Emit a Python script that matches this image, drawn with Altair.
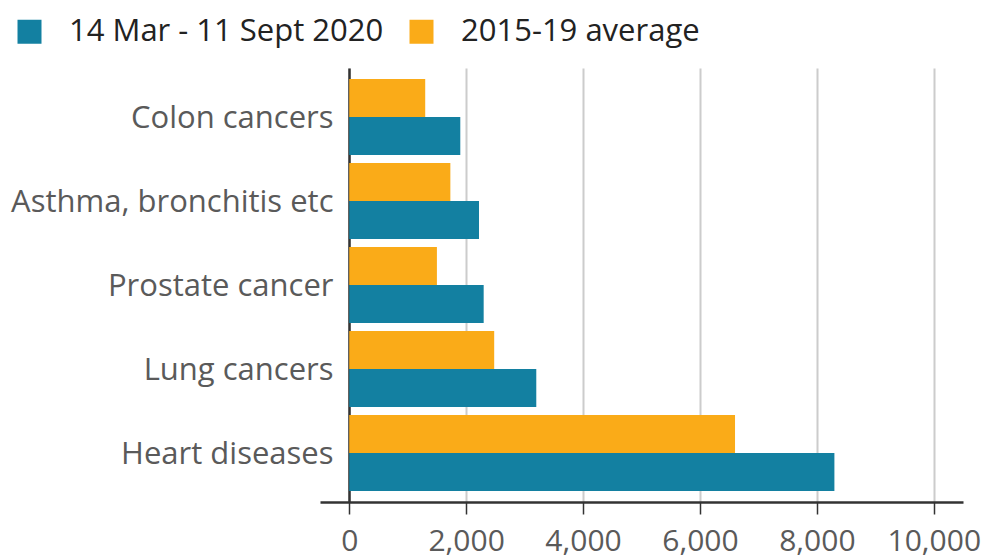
import altair as alt
import pandas as pd

categories = ["Colon cancers", "Asthma, bronchitis etc", "Prostate cancer", "Lung cancers", "Heart diseases"]
series_names = ["14 Mar - 11 Sept 2020", "2015-19 average"]
deaths_2020 = [1900, 2220, 2300, 3200, 8300]
avg_2015_19 = [1300, 1730, 1500, 2480, 6600]
x_ticks = [0, 2000, 4000, 6000, 8000, 10000]
colors = ["#1380A1", "#FAAB18"]

rows = []
for c, a, b in zip(categories, deaths_2020, avg_2015_19):
    rows.append({"cause": c, "series": series_names[0], "value": a})
    rows.append({"cause": c, "series": series_names[1], "value": b})
df = pd.DataFrame(rows)

FONT = "Open Sans"

bars = alt.Chart(df).mark_bar().encode(
    y=alt.Y("cause:N", sort=categories,
            scale=alt.Scale(paddingInner=0.095, paddingOuter=0.131),
            axis=alt.Axis(title=None, ticks=False, labelFontSize=31, labelColor="#5a5a5a",
                          labelFont=FONT, labelPadding=16, labelOffset=2,
                          domainColor="#333333", domainWidth=2.5, offset=-29, labelLimit=400)),
    yOffset=alt.YOffset("series:N", sort=[series_names[1], series_names[0]],
                        scale=alt.Scale(paddingInner=0, paddingOuter=0)),
    x=alt.X("value:Q", scale=alt.Scale(domain=[-500, 10500], zero=False, nice=False),
            axis=alt.Axis(title=None, values=x_ticks, format=",.0f", grid=True,
                          gridColor="#cccccc", gridWidth=2, domainColor="#333333",
                          domainWidth=2.5, tickColor="#333333", tickSize=12, tickWidth=1.5,
                          labelFontSize=30, labelColor="#5a5a5a", labelFont=FONT,
                          labelPadding=12)),
    x2=alt.X2(datum=0),
    color=alt.Color("series:N", sort=series_names,
                    scale=alt.Scale(domain=series_names, range=colors),
                    legend=alt.Legend(title=None, orient="none", direction="horizontal",
                                      legendX=-306, legendY=-52, symbolType="square",
                                      symbolSize=576, symbolStrokeWidth=0,
                                      labelFontSize=31, labelFont=FONT, labelColor="#222222",
                                      labelOffset=24, columnPadding=22, labelLimit=500)),
)

chart = bars.properties(
    width=643, height=434,
    autosize=alt.AutoSizeParams(type="none"),
    padding={"left": 312, "top": 60, "right": 18, "bottom": 57},
).configure_view(stroke=None)

chart.save("out.html", embed_options={"renderer": "svg", "actions": False})
